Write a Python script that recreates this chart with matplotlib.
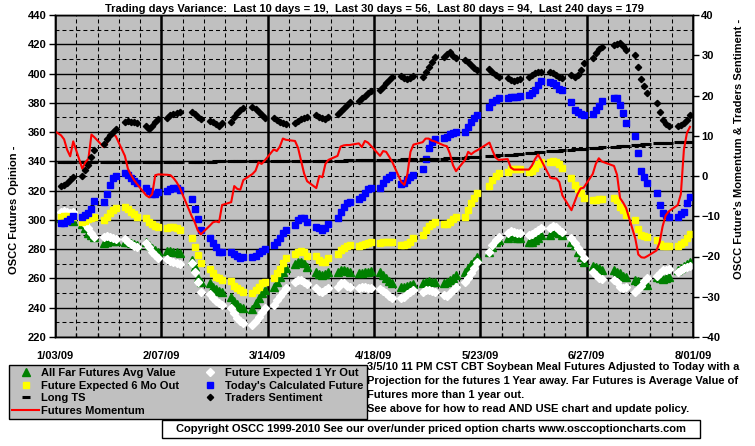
import numpy as np
import matplotlib.pyplot as plt
import matplotlib.dates as mdates
from matplotlib.patches import Rectangle
from matplotlib.ticker import MultipleLocator

plt.rcParams['font.family'] = ['Liberation Sans', 'DejaVu Sans']
plt.rcParams['font.weight'] = 'bold'

holidays = ['2009-02-16', '2009-05-25', '2009-07-03']

# one row per trading week, 1/05/09 .. 7/31/09 (left axis)
far_futures = [
    301.0, 301.0, 300.5, 300.0, 299.5,
    297.2, 294.3, 291.3, 289.7, 288.1,
    284.4, 285.1, 286.3, 285.8, 285.8,
    284.7, 285.1, 284.0, 283.3, 282.9,
    285.1, 282.9, 281.0, 279.4, 278.3,
    278.8, 278.8, 278.3, 277.8, 277.2,
    272.6, 268.1, 260.1, 257.8,
    256.7, 254.4, 252.8, 251.4, 251.0,
    247.6, 244.6, 242.3, 240.7, 239.6,
    239.1, 243.0, 246.4, 249.8, 252.1,
    254.4, 257.8, 261.2, 264.6, 267.4,
    269.7, 271.0, 271.5, 270.3, 268.1,
    264.6, 262.8, 262.4, 262.8, 264.2,
    264.6, 265.8, 265.8, 265.1, 264.6,
    263.5, 263.5, 264.2, 264.6, 265.1,
    264.2, 262.4, 260.1, 258.3, 256.7,
    254.4, 254.4, 255.1, 255.5, 256.0,
    256.7, 257.8, 258.3, 257.8, 257.4,
    256.7, 257.8, 258.9, 260.5, 262.4,
    264.6, 266.9, 269.7, 271.9, 274.9,
    278.3, 281.7, 284.7, 286.3,
    287.9, 289.7, 289.2, 287.9, 287.9,
    284.7, 285.1, 286.3, 287.9, 289.7,
    289.7, 292.0, 292.0, 290.8, 289.7,
    285.1, 282.9, 278.3, 274.9, 271.0,
    268.7, 268.1, 266.9, 265.8, 265.8,
    264.6, 263.5, 261.9, 261.2,
    259.0, 258.0, 257.0, 256.0, 255.5,
    261.0, 260.0, 259.5, 260.0, 261.0,
    265.5, 267.0, 268.5, 270.0, 271.0,
]

six_month = [
    302.0, 303.0, 302.5, 301.5, 302.0,
    298.8, 299.5, 300.4, 301.1, 302.2,
    299.9, 302.2, 304.5, 306.8, 307.9,
    308.6, 307.2, 305.6, 304.0, 302.2,
    301.1, 298.8, 297.2, 295.8, 294.9,
    294.2, 294.9, 294.9, 294.2, 293.1,
    287.9, 281.7, 276.0, 270.3,
    266.5, 263.5, 261.2, 260.1, 259.0,
    258.0, 255.0, 253.5, 252.0, 250.5,
    249.8, 252.1, 254.4, 256.7, 257.8,
    260.1, 263.5, 266.5, 270.3, 274.2,
    276.5, 277.8, 278.8, 277.8, 275.6,
    275.6, 272.6, 271.5, 271.5, 273.7,
    276.5, 279.4, 281.0, 282.2, 282.9,
    282.4, 282.9, 283.3, 284.4, 285.1,
    284.0, 284.7, 285.1, 285.1, 285.1,
    282.9, 282.9, 283.3, 285.1, 287.4,
    289.7, 293.1, 296.1, 297.2, 298.3,
    297.0, 297.0, 298.8, 300.6, 302.2,
    302.0, 307.0, 311.5, 315.0, 318.5,
    323.4, 327.3, 330.2, 331.8,
    333.0, 334.8, 335.0, 335.0, 335.0,
    333.0, 333.4, 335.7, 337.9, 339.8,
    339.8, 340.0, 339.8, 338.5, 335.7,
    328.9, 323.9, 321.1, 318.2, 314.7,
    313.6, 313.6, 314.0, 314.3, 314.7,
    313.6, 309.0, 306.8, 303.4,
    300.0, 293.6, 289.7, 289.0, 288.5,
    286.3, 283.5, 282.2, 282.2, 282.2,
    282.2, 283.5, 285.1, 287.4, 290.2,
]

one_year = [
    305.6, 306.3, 305.6, 304.9, 305.6,
    299.9, 297.2, 294.3, 291.3, 288.5,
    288.5, 289.0, 288.5, 287.4, 286.7,
    286.7, 285.1, 283.5, 282.2, 281.7,
    284.0, 281.7, 278.3, 276.0, 273.7,
    273.0, 272.1, 271.4, 270.3, 269.9,
    270.3, 264.6, 257.8, 251.0,
    249.2, 246.4, 244.6, 243.0, 241.9,
    239.6, 236.2, 233.2, 230.9, 229.3,
    228.2, 230.9, 233.9, 237.3, 240.0,
    241.9, 245.3, 248.3, 251.0, 253.7,
    257.8, 258.9, 258.9, 257.8, 256.0,
    253.3, 251.4, 251.0, 252.1, 253.7,
    254.4, 256.7, 256.7, 255.1, 254.4,
    253.3, 254.4, 254.4, 253.7, 253.3,
    252.8, 251.4, 249.8, 248.3, 246.9,
    246.4, 247.6, 249.2, 251.0, 252.1,
    251.0, 252.1, 252.1, 251.4, 250.5,
    248.7, 248.3, 249.8, 252.1, 254.4,
    257.8, 260.5, 263.5, 266.9, 271.5,
    277.8, 282.9, 286.3, 288.6,
    290.8, 292.4, 292.0, 290.8, 290.8,
    289.7, 290.1, 291.5, 293.1, 294.2,
    294.2, 296.1, 295.4, 293.1, 292.0,
    287.4, 284.0, 280.6, 277.8, 273.7,
    264.6, 262.4, 260.5, 259.6, 258.9,
    257.8, 254.4, 253.3, 254.4,
    251.0, 252.5, 255.0, 258.0, 260.0,
    261.5, 263.5, 265.8, 266.0, 266.2,
    264.6, 265.8, 266.9, 268.1, 268.5,
]

calculated = [
    297.7, 298.1, 299.4, 300.4, 302.7,
    302.2, 303.1, 305.0, 307.2, 312.6,
    312.5, 318.0, 324.0, 328.5, 330.0,
    331.8, 330.7, 328.4, 326.8, 325.0,
    322.0, 320.0, 317.5, 318.0, 319.0,
    319.8, 321.1, 321.6, 321.6, 320.4,
    314.0, 307.2, 300.4, 293.1,
    287.4, 284.0, 281.3, 278.3, 278.3,
    277.8, 276.5, 275.3, 274.2, 274.5,
    274.4, 275.6, 277.2, 278.8, 280.1,
    282.9, 285.1, 287.9, 290.8, 293.1,
    296.5, 299.9, 301.1, 301.1, 298.8,
    295.4, 294.2, 293.1, 294.7, 297.0,
    301.0, 305.6, 309.0, 311.5, 312.0,
    314.3, 315.9, 318.2, 321.1, 321.6,
    322.0, 325.0, 328.0, 329.5, 330.7,
    324.5, 325.5, 327.0, 329.0, 331.0,
    334.8, 341.6, 348.9, 353.5, 355.3,
    356.2, 356.9, 358.5, 359.2, 359.8,
    360.3, 363.7, 366.7, 369.4, 371.7,
    377.4, 380.3, 381.9, 383.0,
    383.5, 384.2, 384.2, 384.2, 384.7,
    385.3, 386.5, 388.8, 392.2, 395.1,
    394.5, 393.3, 392.2, 389.4, 388.8,
    380.8, 375.1, 373.5, 372.4, 371.7,
    372.5, 375.0, 378.0, 381.0, 383.5,
    383.5, 378.5, 372.8, 366.4,
    357.0, 345.5, 333.6, 329.0, 325.4,
    318.2, 310.2, 304.5, 303.4, 302.2,
    302.2, 303.8, 305.6, 311.3, 315.9,
]

# right axis
sentiment = [
    -2.6, -2.2, -1.8, -1.0, -0.2,
    0.1, 1.5, 2.7, 4.6, 6.5,
    7.9, 9.2, 10.2, 11.0, 11.8,
    13.5, 13.7, 13.5, 13.3, 13.1,
    12.5, 11.8, 12.3, 13.3, 14.2,
    14.5, 15.2, 15.5, 15.7, 15.8,
    15.8, 15.3, 14.7, 14.2,
    13.7, 13.3, 12.8, 12.5, 13.1,
    13.5, 14.7, 15.6, 16.4, 17.0,
    17.2, 16.6, 15.8, 15.2, 14.5,
    14.3, 13.9, 13.5, 13.1, 13.0,
    13.1, 13.7, 14.1, 14.3, 14.7,
    15.2, 14.7, 14.3, 14.2, 14.7,
    15.3, 16.1, 17.0, 17.6, 18.3,
    18.6, 19.3, 19.9, 20.5, 21.1,
    21.4, 22.2, 23.0, 23.9, 24.7,
    24.8, 24.4, 24.0, 24.3, 24.8,
    24.7, 25.9, 27.2, 28.4, 29.6,
    29.6, 30.2, 30.7, 29.9, 29.2,
    28.7, 28.2, 27.6, 26.9, 26.3,
    26.5, 25.8, 25.1, 24.5,
    24.4, 23.9, 23.6, 23.8, 24.0,
    24.5, 25.1, 25.5, 25.8, 25.9,
    25.8, 25.5, 25.1, 24.7, 24.4,
    25.1, 24.7, 25.1, 26.3, 28.0,
    29.2, 30.5, 31.6, 32.1, 32.5,
    32.8, 33.0, 32.2, 31.3,
    30.1, 27.2, 24.0, 22.3, 20.7,
    18.2, 16.0, 13.9, 12.9, 12.3,
    12.4, 12.6, 13.1, 13.9, 15.2,
]

long_ts = [
    3.5, 3.5, 3.5, 3.5, 3.5,
    3.5, 3.5, 3.5, 3.5, 3.5,
    3.5, 3.5, 3.5, 3.5, 3.6,
    3.6, 3.6, 3.6, 3.6, 3.6,
    3.6, 3.6, 3.6, 3.6, 3.6,
    3.6, 3.6, 3.6, 3.6, 3.6,
    3.6, 3.6, 3.6, 3.6,
    3.6, 3.6, 3.7, 3.7, 3.7,
    3.7, 3.7, 3.7, 3.7, 3.7,
    3.7, 3.7, 3.7, 3.7, 3.7,
    3.7, 3.7, 3.7, 3.7, 3.7,
    3.7, 3.8, 3.8, 3.8, 3.8,
    3.8, 3.8, 3.8, 3.8, 3.8,
    3.8, 3.8, 3.8, 3.9, 3.9,
    3.9, 3.9, 3.9, 3.9, 3.9,
    4.0, 4.0, 4.0, 4.0, 4.0,
    4.0, 4.1, 4.1, 4.1, 4.1,
    4.2, 4.2, 4.2, 4.3, 4.3,
    4.3, 4.4, 4.4, 4.4, 4.5,
    4.5, 4.6, 4.6, 4.7, 4.7,
    4.9, 5.0, 5.0, 5.1,
    5.2, 5.3, 5.3, 5.4, 5.5,
    5.6, 5.7, 5.8, 5.9, 5.9,
    6.1, 6.2, 6.3, 6.3, 6.4,
    6.5, 6.6, 6.6, 6.7, 6.8,
    6.9, 7.0, 7.0, 7.1, 7.2,
    7.3, 7.4, 7.4, 7.5,
    7.7, 7.8, 7.8, 7.9, 8.0,
    8.1, 8.2, 8.2, 8.3, 8.3,
    8.4, 8.4, 8.5, 8.5, 8.5,
]

# momentum starts one trading day earlier (1/02/09)
momentum = [
    11.6,
    10.1, 9.1, 6.5, 4.9, 8.6,
    1.8, 3.4, 4.3, 10.3, 9.6,
    7.2, 7.8, 10.3, 10.4, 9.9,
    5.0, 1.8, 0.3, -1.0, -2.0,
    -4.8, -5.3, -4.5, 0.2, 0.4,
    0.3, 0.2, -0.5, -1.5, -2.8,
    -10.0, -11.5, -13.5, -14.5,
    -12.3, -11.5, -11.3, -11.5, -7.2,
    -6.5, -2.5, -3.2, -3.4, -1.0,
    0.5, 1.3, 3.4, 3.0, 3.8,
    6.6, 6.2, 7.3, 9.3, 9.0,
    8.7, 7.0, 3.8, 0.6, -1.3,
    -3.0, 0.0, -0.3, 3.0, 4.0,
    5.0, 7.3, 7.6, 7.7, 7.7,
    8.1, 7.2, 8.7, 8.3, 7.5,
    5.0, 6.2, 6.0, 4.8, 3.5,
    -1.5, -2.2, 0.5, 6.0, 7.8,
    8.4, 9.3, 9.3, 8.8, 8.6,
    7.6, 7.4, 5.5, 2.7, 1.2,
    4.0, 6.0, 5.4, 6.0, 6.4,
    8.3, 6.3, 4.6, 4.0,
    4.2, 2.1, 1.6, 1.6, 1.6,
    1.6, 2.6, 4.2, 5.3, 4.0,
    -0.4, -0.6, -0.6, -1.5, -4.8,
    -8.5, -6.5, -4.5, -3.1, -2.9,
    0.5, 3.0, 4.4, 3.6, 2.5,
    0.3, -5.5, -6.6, -8.0,
    -15.5, -19.5, -20.2, -20.3, -19.9,
    -18.5, -16.5, -12.5, -9.8, -8.8,
    -7.2, -4.5, 6.5, 10.7, 12.2,
]

tick_dates = ['2009-01-03', '2009-02-07', '2009-03-14', '2009-04-18',
              '2009-05-23', '2009-06-27', '2009-08-01']
tick_labels = ['1/03/09', '2/07/09', '3/14/09', '4/18/09', '5/23/09', '6/27/09', '8/01/09']

title = ('Trading days Variance:  Last 10 days = 19,  Last 30 days = 56,  '
         'Last 80 days = 94,  Last 240 days = 179')
notes = ['3/5/10 11 PM CST CBT Soybean Meal Futures Adjusted to Today with a',
         'Projection for the futures 1 Year away. Far Futures is Average Value of',
         'Futures more than 1 year out.',
         'See above for how to read AND USE chart and update policy.']
copyright_text = ('Copyright OSCC 1999-2010 See our over/under priced option charts '
                  'www.osccoptioncharts.com')


def fx(px):
    return px / 755.0


def fy(py):
    return 1 - py / 446.0


def main():
    days = np.arange('2009-01-05', '2009-08-01', dtype='datetime64[D]')
    days = days[np.is_busday(days, holidays=holidays)]
    x = mdates.date2num(days)
    x_mom = np.concatenate([[mdates.date2num(np.datetime64('2009-01-02'))], x])

    fig = plt.figure(figsize=(7.55, 4.46), dpi=100)
    ax = fig.add_axes([fx(55), fy(337), fx(693 - 55), (337 - 15) / 446.0])
    ax.set_facecolor('#c0c0c0')
    ax2 = ax.twinx()

    dash = (0, (3.8, 2.9))
    ax.set_ylim(220, 440)
    ax.yaxis.set_major_locator(MultipleLocator(20))
    ax.yaxis.set_minor_locator(MultipleLocator(10))
    ticks = mdates.date2num(np.array(tick_dates, dtype='datetime64[D]'))
    ax.set_xlim(ticks[0], ticks[-1])
    ax.set_xticks(ticks)
    ax.set_xticklabels(tick_labels)
    ax.set_xticks(np.arange(ticks[0], ticks[-1] + 1, 7), minor=True)

    ax.grid(True, which='major', axis='y', color='black', lw=1.0, ls='-')
    ax.grid(True, which='minor', axis='y', color='black', lw=0.75, ls=dash)
    ax.grid(True, which='major', axis='x', color='black', lw=1.8, ls='-')
    ax.grid(True, which='minor', axis='x', color='black', lw=0.75, ls=dash)
    ax.set_axisbelow(True)

    ax.tick_params(axis='y', which='major', length=4, width=1, pad=2, labelsize=8)
    ax.tick_params(axis='y', which='minor', length=0)
    ax.tick_params(axis='x', which='major', length=0, pad=10, labelsize=8)
    ax.tick_params(axis='x', which='minor', direction='in', length=3, width=1)

    h1, = ax.plot(x, far_futures, ls='none', marker='^', ms=5.4, color='#008000',
                  label='All Far Futures Avg Value')
    h5, = ax.plot(x, one_year, ls='none', marker='D', ms=4, color='white',
                  label='Future Expected 1 Yr Out')
    h2, = ax.plot(x, six_month, ls='none', marker='s', ms=4.2, color='#ffff00',
                  label='Future Expected 6 Mo Out')
    h6, = ax.plot(x, calculated, ls='none', marker='s', ms=5.0, color='#0000ff',
                  label="Today's Calculated Future")

    ax2.set_ylim(-40, 40)
    ax2.yaxis.set_major_locator(MultipleLocator(10))
    ax2.tick_params(axis='y', length=4, width=1, pad=2, labelsize=8)
    h3, = ax2.plot(x, long_ts, ls='none', marker='_', ms=5.5, mew=2.2, color='black',
                   label='Long TS')
    h4, = ax2.plot(x_mom, momentum, color='#ff0000', lw=1.5, label='Futures Momentum')
    h7, = ax2.plot(x, sentiment, ls='none', marker='D', ms=3.2, color='black',
                   label='Traders Sentiment')

    for a in (ax, ax2):
        for s in a.spines.values():
            s.set_linewidth(1)
            s.set_color('black')

    fig.text(fx(374), fy(9), title, ha='center', va='center', fontsize=8)
    fig.text(fx(14), fy(210), 'OSCC Futures Opinion -', rotation=90,
             ha='center', va='center', fontsize=8)
    fig.text(fx(739), fy(149), "OSCC Future's Momentum & Traders Sentiment -",
             rotation=90, ha='center', va='center', fontsize=8)

    handles = [h1, h2, h3, h4, h5, h6, h7]
    fig.legend(handles, [h.get_label() for h in handles],
               loc='upper left', bbox_to_anchor=(fx(9), fy(418), fx(358), 53 / 446.0),
               mode='expand', ncol=2, fontsize=8, frameon=True, fancybox=False,
               edgecolor='black', facecolor='#c0c0c0', framealpha=1,
               borderpad=0.3, labelspacing=0.22, handlelength=2.4,
               handletextpad=0.2, columnspacing=0.5, numpoints=1,
               borderaxespad=0)

    for i, line in enumerate(notes):
        fig.text(fx(367), fy(367 + 14 * i), line, ha='left', va='center', fontsize=8)

    fig.add_artist(Rectangle((fx(162), fy(438)), fx(700 - 162), 18 / 446.0,
                             transform=fig.transFigure, facecolor='white',
                             edgecolor='black', lw=1))
    fig.text(fx(431), fy(429), copyright_text, ha='center', va='center', fontsize=8)

    fig.savefig('out.png', dpi=100)


if __name__ == '__main__':
    main()
